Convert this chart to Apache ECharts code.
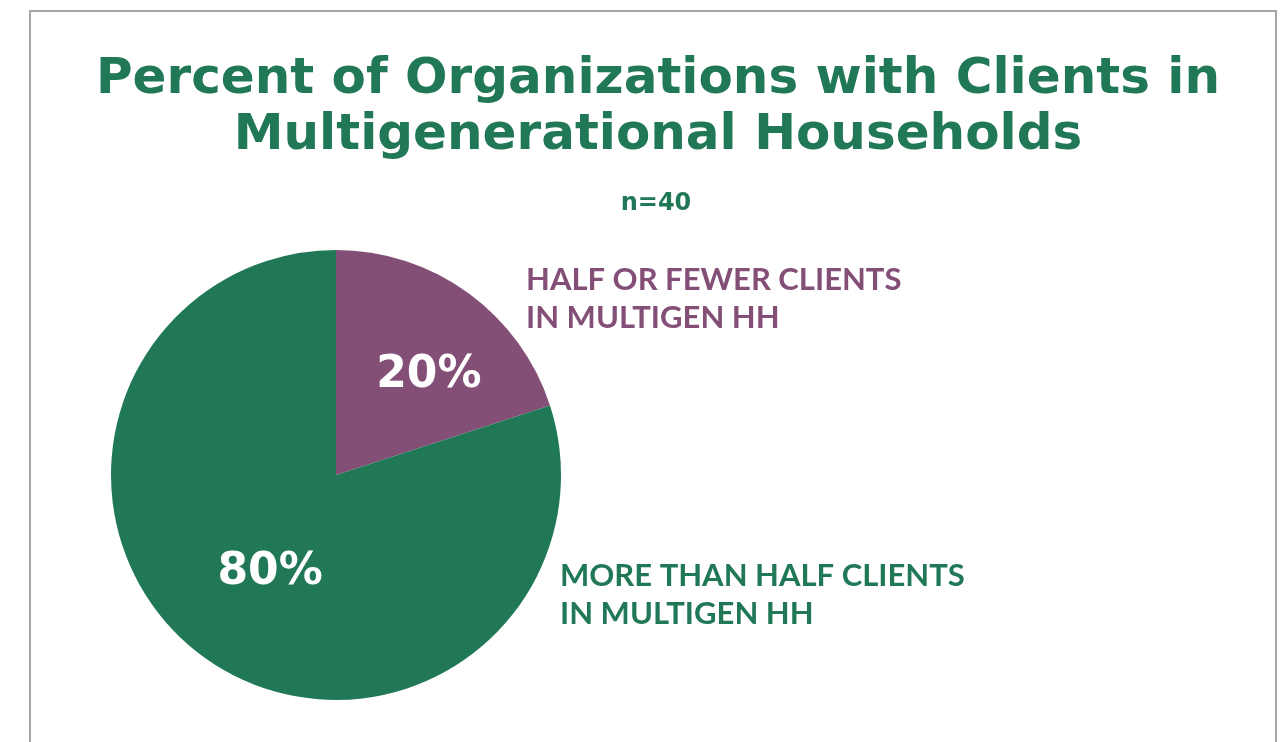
<!DOCTYPE html>
<html>
<head>
<meta charset="utf-8">
<script src="https://cdn.jsdelivr.net/npm/echarts@6/dist/echarts.min.js"></script>
<style>
html, body { margin: 0; padding: 0; background: #fff; }
#main { width: 1288px; height: 742px; }
</style>
</head>
<body>
<div id="main"></div>
<script>
var categories = ['HALF OR FEWER CLIENTS\nIN MULTIGEN HH', 'MORE THAN HALF CLIENTS\nIN MULTIGEN HH'];
var values = [20, 80];
var colors = ['#844f77', '#217856'];

var myChart = echarts.init(document.getElementById('main'));

var option = {
    backgroundColor: '#fff',
    title: [{
        text: 'Percent of Organizations with Clients in\nMultigenerational Households',
        left: 653,
        textAlign: 'center',
        top: 47,
        textStyle: {
            fontFamily: 'DejaVu Sans',
            fontWeight: 'bold',
            fontSize: 50,
            lineHeight: 56,
            color: '#217856'
        }
    }, {
        text: 'n=40',
        left: 651,
        textAlign: 'center',
        top: 187,
        textStyle: {
            fontFamily: 'DejaVu Sans',
            fontWeight: 'bold',
            fontSize: 24,
            color: '#217856'
        }
    }],
    graphic: [{
        type: 'rect',
        shape: { x: 30, y: 11, width: 1246, height: 780 },
        style: { fill: 'none', stroke: '#a6a6a6', lineWidth: 2 },
        silent: true
    }, {
        type: 'text',
        left: 526,
        top: 261,
        style: {
            text: categories[0],
            fill: colors[0],
            font: 'bold 31px Lato',
            lineHeight: 38
        }
    }, {
        type: 'text',
        left: 560,
        top: 557,
        style: {
            text: categories[1],
            fill: colors[1],
            font: 'bold 31px Lato',
            lineHeight: 38
        }
    }],
    series: [{
        type: 'pie',
        center: [336, 475],
        radius: 225,
        startAngle: 90,
        clockwise: true,
        animation: false,
        silent: true,
        label: {
            show: true,
            position: 'inside',
            formatter: '{c}%',
            color: '#fff',
            fontFamily: 'DejaVu Sans',
            fontWeight: 'bold',
            fontSize: 44
        },
        labelLine: { show: false },
        data: values.map(function (v, i) {
            var d = {
                value: v,
                name: categories[i],
                itemStyle: { color: colors[i], borderWidth: 0 }
            };
            if (i === 0) {
                d.label = { offset: [25, -6] };
            } else {
                d.label = { offset: [2, 4] };
            }
            return d;
        })
    }]
};

myChart.setOption(option);
</script>
</body>
</html>
